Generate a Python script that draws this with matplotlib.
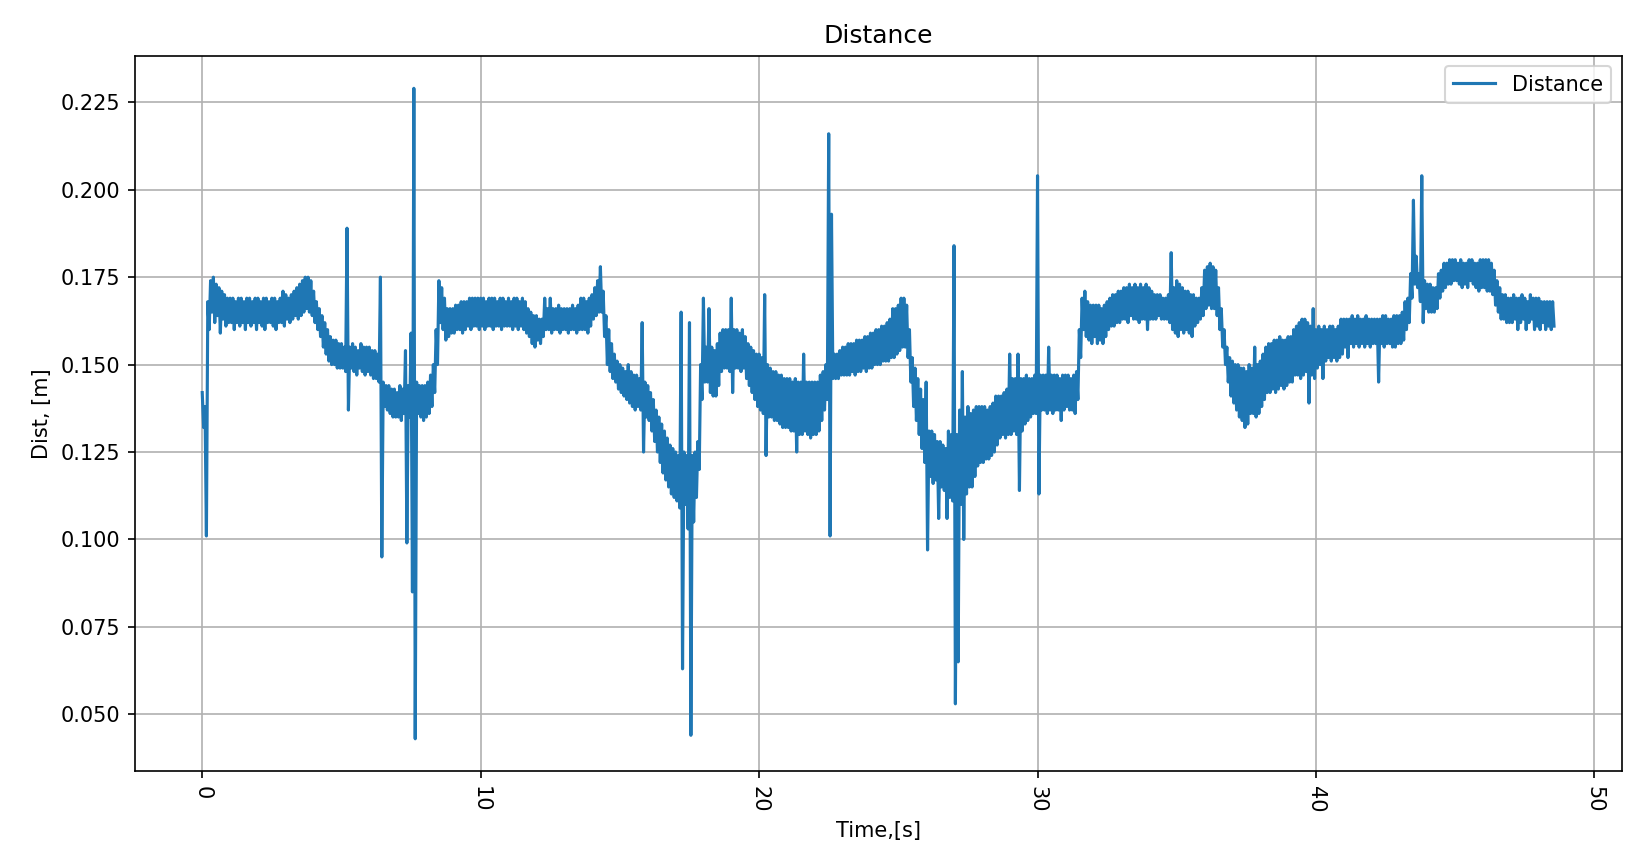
import numpy as np
import matplotlib.pyplot as plt

# the log alternates between the top and the bottom of the noise band,
# top samples at t = k*dt, bottom samples half a step later
dt = 0.1

# top of the noise band [m], one row = one second
upper_m = [
    0.142, 0.138, 0.168, 0.174, 0.175, 0.173, 0.172, 0.171, 0.170, 0.169,  # 0 s
    0.169, 0.169, 0.168, 0.169, 0.169, 0.168, 0.169, 0.169, 0.168, 0.169,  # 1
    0.169, 0.168, 0.169, 0.169, 0.168, 0.169, 0.169, 0.168, 0.169, 0.171,  # 2
    0.170, 0.169, 0.170, 0.171, 0.172, 0.173, 0.174, 0.175, 0.175, 0.174,  # 3
    0.171, 0.168, 0.166, 0.164, 0.162, 0.160, 0.158, 0.157, 0.157, 0.156,  # 4
    0.156, 0.155, 0.189, 0.155, 0.156, 0.155, 0.154, 0.156, 0.155, 0.155,  # 5
    0.155, 0.154, 0.154, 0.153, 0.175, 0.145, 0.144, 0.144, 0.143, 0.143,  # 6
    0.142, 0.144, 0.143, 0.154, 0.144, 0.159, 0.229, 0.145, 0.144, 0.144,  # 7
    0.144, 0.145, 0.147, 0.150, 0.160, 0.174, 0.172, 0.169, 0.166, 0.166,  # 8
    0.166, 0.167, 0.167, 0.168, 0.168, 0.168, 0.169, 0.169, 0.169, 0.169,  # 9
    0.169, 0.169, 0.168, 0.169, 0.169, 0.169, 0.168, 0.169, 0.169, 0.168,  # 10
    0.169, 0.168, 0.169, 0.169, 0.168, 0.169, 0.168, 0.166, 0.165, 0.164,  # 11
    0.164, 0.163, 0.163, 0.169, 0.166, 0.169, 0.166, 0.166, 0.167, 0.166,  # 12
    0.166, 0.166, 0.166, 0.167, 0.166, 0.167, 0.169, 0.169, 0.168, 0.169,  # 13
    0.170, 0.172, 0.174, 0.178, 0.171, 0.164, 0.160, 0.156, 0.153, 0.151,  # 14
    0.150, 0.149, 0.148, 0.150, 0.148, 0.147, 0.147, 0.146, 0.162, 0.145,  # 15
    0.144, 0.142, 0.140, 0.137, 0.135, 0.133, 0.131, 0.129, 0.127, 0.126,  # 16
    0.125, 0.124, 0.165, 0.125, 0.124, 0.162, 0.124, 0.125, 0.128, 0.150,  # 17
    0.169, 0.155, 0.166, 0.155, 0.154, 0.156, 0.159, 0.160, 0.160, 0.160,  # 18
    0.169, 0.160, 0.160, 0.159, 0.160, 0.158, 0.156, 0.155, 0.154, 0.153,  # 19
    0.153, 0.152, 0.170, 0.150, 0.149, 0.148, 0.148, 0.147, 0.147, 0.146,  # 20
    0.146, 0.146, 0.145, 0.146, 0.145, 0.145, 0.153, 0.145, 0.145, 0.145,  # 21
    0.145, 0.145, 0.147, 0.148, 0.150, 0.216, 0.193, 0.153, 0.153, 0.154,  # 22
    0.155, 0.155, 0.156, 0.156, 0.156, 0.157, 0.157, 0.157, 0.158, 0.158,  # 23
    0.159, 0.159, 0.160, 0.160, 0.161, 0.161, 0.162, 0.163, 0.166, 0.166,  # 24
    0.167, 0.169, 0.169, 0.167, 0.160, 0.152, 0.149, 0.146, 0.143, 0.140,  # 25
    0.145, 0.131, 0.131, 0.130, 0.128, 0.128, 0.127, 0.126, 0.131, 0.130,  # 26
    0.184, 0.130, 0.137, 0.148, 0.135, 0.138, 0.136, 0.137, 0.138, 0.138,  # 27
    0.138, 0.138, 0.137, 0.138, 0.139, 0.141, 0.141, 0.141, 0.142, 0.143,  # 28
    0.153, 0.146, 0.146, 0.153, 0.146, 0.146, 0.147, 0.146, 0.146, 0.147,  # 29
    0.204, 0.147, 0.147, 0.147, 0.155, 0.147, 0.147, 0.147, 0.146, 0.147,  # 30
    0.147, 0.147, 0.146, 0.147, 0.148, 0.160, 0.169, 0.171, 0.168, 0.167,  # 31
    0.167, 0.167, 0.167, 0.166, 0.167, 0.168, 0.169, 0.170, 0.170, 0.171,  # 32
    0.171, 0.172, 0.172, 0.173, 0.172, 0.173, 0.172, 0.173, 0.172, 0.173,  # 33
    0.172, 0.171, 0.170, 0.170, 0.170, 0.169, 0.169, 0.170, 0.182, 0.172,  # 34
    0.174, 0.173, 0.172, 0.171, 0.171, 0.170, 0.170, 0.169, 0.169, 0.172,  # 35
    0.177, 0.178, 0.179, 0.178, 0.177, 0.172, 0.166, 0.160, 0.155, 0.152,  # 36
    0.151, 0.150, 0.150, 0.149, 0.149, 0.148, 0.150, 0.149, 0.155, 0.150,  # 37
    0.151, 0.153, 0.155, 0.156, 0.156, 0.157, 0.157, 0.158, 0.157, 0.157,  # 38
    0.158, 0.158, 0.160, 0.161, 0.162, 0.163, 0.163, 0.162, 0.161, 0.166,  # 39
    0.160, 0.161, 0.160, 0.161, 0.160, 0.161, 0.161, 0.160, 0.161, 0.163,  # 40
    0.163, 0.163, 0.163, 0.164, 0.163, 0.164, 0.163, 0.163, 0.164, 0.163,  # 41
    0.163, 0.163, 0.163, 0.163, 0.164, 0.164, 0.163, 0.163, 0.164, 0.164,  # 42
    0.164, 0.165, 0.168, 0.169, 0.176, 0.197, 0.181, 0.176, 0.204, 0.174,  # 43
    0.173, 0.173, 0.172, 0.172, 0.176, 0.177, 0.179, 0.179, 0.180, 0.180,  # 44
    0.180, 0.179, 0.180, 0.179, 0.179, 0.180, 0.180, 0.179, 0.179, 0.180,  # 45
    0.180, 0.180, 0.180, 0.179, 0.177, 0.174, 0.172, 0.170, 0.170, 0.169,  # 46
    0.169, 0.170, 0.169, 0.169, 0.170, 0.169, 0.168, 0.170, 0.169, 0.169,  # 47
    0.169, 0.168, 0.168, 0.168, 0.168, 0.168,                              # 48
]

# bottom of the noise band [m], one row = one second
lower_m = [
    0.132, 0.101, 0.160, 0.165, 0.162, 0.164, 0.159, 0.163, 0.161, 0.162,  # 0 s
    0.162, 0.160, 0.162, 0.161, 0.162, 0.160, 0.162, 0.161, 0.162, 0.160,  # 1
    0.162, 0.161, 0.160, 0.162, 0.162, 0.161, 0.160, 0.162, 0.162, 0.161,  # 2
    0.163, 0.162, 0.163, 0.164, 0.163, 0.164, 0.165, 0.166, 0.165, 0.164,  # 3
    0.162, 0.160, 0.158, 0.155, 0.153, 0.151, 0.150, 0.150, 0.149, 0.149,  # 4
    0.149, 0.148, 0.137, 0.149, 0.148, 0.147, 0.149, 0.148, 0.147, 0.148,  # 5
    0.147, 0.146, 0.146, 0.145, 0.095, 0.138, 0.137, 0.136, 0.135, 0.135,  # 6
    0.135, 0.134, 0.136, 0.099, 0.135, 0.085, 0.043, 0.136, 0.135, 0.134,  # 7
    0.135, 0.136, 0.138, 0.142, 0.150, 0.162, 0.160, 0.157, 0.158, 0.159,  # 8
    0.159, 0.160, 0.160, 0.159, 0.160, 0.161, 0.160, 0.161, 0.161, 0.160,  # 9
    0.161, 0.160, 0.161, 0.161, 0.160, 0.161, 0.161, 0.160, 0.161, 0.161,  # 10
    0.161, 0.160, 0.161, 0.160, 0.161, 0.160, 0.159, 0.158, 0.156, 0.155,  # 11
    0.157, 0.156, 0.158, 0.160, 0.160, 0.159, 0.160, 0.160, 0.159, 0.160,  # 12
    0.160, 0.159, 0.160, 0.160, 0.159, 0.160, 0.160, 0.160, 0.159, 0.161,  # 13
    0.163, 0.164, 0.165, 0.165, 0.158, 0.150, 0.148, 0.146, 0.145, 0.143,  # 14
    0.142, 0.141, 0.140, 0.139, 0.138, 0.137, 0.138, 0.137, 0.125, 0.135,  # 15
    0.134, 0.131, 0.128, 0.125, 0.122, 0.119, 0.117, 0.115, 0.113, 0.112,  # 16
    0.111, 0.109, 0.063, 0.110, 0.103, 0.044, 0.105, 0.112, 0.120, 0.140,  # 17
    0.145, 0.145, 0.142, 0.141, 0.141, 0.144, 0.148, 0.149, 0.149, 0.148,  # 18
    0.142, 0.149, 0.149, 0.148, 0.149, 0.146, 0.144, 0.142, 0.140, 0.138,  # 19
    0.137, 0.136, 0.124, 0.135, 0.135, 0.134, 0.134, 0.133, 0.132, 0.132,  # 20
    0.132, 0.131, 0.131, 0.125, 0.130, 0.130, 0.131, 0.130, 0.129, 0.130,  # 21
    0.130, 0.131, 0.134, 0.137, 0.140, 0.101, 0.146, 0.146, 0.146, 0.147,  # 22
    0.147, 0.147, 0.147, 0.148, 0.147, 0.148, 0.148, 0.149, 0.148, 0.149,  # 23
    0.149, 0.150, 0.150, 0.150, 0.151, 0.151, 0.151, 0.152, 0.152, 0.153,  # 24
    0.154, 0.155, 0.155, 0.152, 0.145, 0.138, 0.134, 0.130, 0.126, 0.122,  # 25
    0.097, 0.118, 0.116, 0.117, 0.106, 0.115, 0.114, 0.106, 0.112, 0.111,  # 26
    0.053, 0.065, 0.110, 0.100, 0.113, 0.115, 0.115, 0.118, 0.121, 0.122,  # 27
    0.122, 0.123, 0.123, 0.124, 0.125, 0.127, 0.129, 0.130, 0.129, 0.130,  # 28
    0.130, 0.131, 0.130, 0.114, 0.131, 0.133, 0.134, 0.135, 0.136, 0.136,  # 29
    0.113, 0.137, 0.137, 0.136, 0.137, 0.136, 0.137, 0.137, 0.134, 0.137,  # 30
    0.138, 0.137, 0.137, 0.136, 0.140, 0.152, 0.160, 0.158, 0.157, 0.156,  # 31
    0.158, 0.156, 0.157, 0.156, 0.158, 0.160, 0.161, 0.161, 0.162, 0.162,  # 32
    0.163, 0.163, 0.162, 0.164, 0.163, 0.163, 0.162, 0.163, 0.163, 0.160,  # 33
    0.163, 0.163, 0.163, 0.164, 0.163, 0.163, 0.163, 0.162, 0.160, 0.159,  # 34
    0.158, 0.160, 0.159, 0.160, 0.159, 0.158, 0.161, 0.162, 0.163, 0.164,  # 35
    0.166, 0.167, 0.166, 0.166, 0.164, 0.160, 0.155, 0.150, 0.145, 0.141,  # 36
    0.139, 0.137, 0.135, 0.134, 0.132, 0.133, 0.136, 0.136, 0.135, 0.136,  # 37
    0.138, 0.140, 0.142, 0.142, 0.143, 0.142, 0.143, 0.144, 0.143, 0.144,  # 38
    0.145, 0.145, 0.147, 0.147, 0.146, 0.147, 0.148, 0.139, 0.147, 0.146,  # 39
    0.149, 0.150, 0.146, 0.151, 0.152, 0.151, 0.152, 0.151, 0.152, 0.153,  # 40
    0.155, 0.152, 0.156, 0.155, 0.156, 0.155, 0.156, 0.155, 0.156, 0.155,  # 41
    0.156, 0.156, 0.145, 0.156, 0.155, 0.156, 0.156, 0.155, 0.155, 0.156,  # 42
    0.156, 0.157, 0.160, 0.162, 0.169, 0.173, 0.172, 0.168, 0.162, 0.166,  # 43
    0.165, 0.165, 0.165, 0.166, 0.169, 0.171, 0.172, 0.173, 0.173, 0.174,  # 44
    0.174, 0.173, 0.172, 0.173, 0.172, 0.174, 0.173, 0.172, 0.171, 0.172,  # 45
    0.172, 0.171, 0.171, 0.170, 0.167, 0.165, 0.163, 0.163, 0.162, 0.162,  # 46
    0.162, 0.163, 0.160, 0.162, 0.163, 0.160, 0.162, 0.163, 0.160, 0.161,  # 47
    0.160, 0.162, 0.160, 0.161, 0.160, 0.161,                              # 48
]

# put the two halves back in recording order
n = len(upper_m)
time_s = np.empty(2 * n)
dist_m = np.empty(2 * n)
time_s[0::2] = np.arange(n) * dt
time_s[1::2] = np.arange(n) * dt + dt / 2
dist_m[0::2] = upper_m
dist_m[1::2] = lower_m

fig = plt.figure(figsize=(11, 5.76), dpi=150)
plt.plot(time_s, dist_m, label='Distance')
plt.title('Distance')
plt.xlabel('Time,[s]')
plt.ylabel('Dist, [m]')
plt.xticks(rotation=-90)
plt.legend(loc='upper right')
plt.grid(True)
fig.subplots_adjust(left=0.0816, right=0.9828, top=0.9354, bottom=0.1073)
plt.savefig('out.png', dpi=150)
